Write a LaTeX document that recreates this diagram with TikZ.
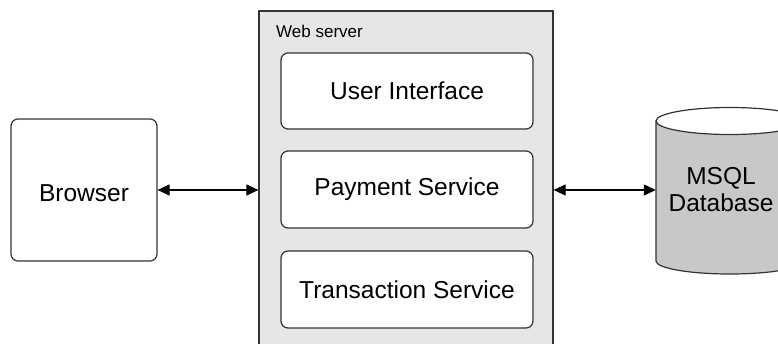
\documentclass[tikz,border=0pt]{standalone}
\usepackage{fontspec}
\setmainfont{Liberation Sans}
\usetikzlibrary{arrows.meta}

\definecolor{linegray}{HTML}{333333}
\definecolor{serverfill}{HTML}{E6E6E6}
\definecolor{dbfill}{HTML}{C8C8C8}

\tikzset{
  box/.style={draw=linegray, line width=1.2pt, rounded corners=7pt, fill=white,
    inner sep=0pt, font=\fontsize{24.5}{27}\selectfont},
  container/.style={draw=linegray, line width=1.2pt, fill=serverfill, inner sep=0pt},
  link/.style={{Triangle[length=12pt,width=11pt]}-{Triangle[length=12pt,width=11pt]},
    draw=black, line width=1.2pt},
}

\begin{document}
\begin{tikzpicture}[x=1pt,y=-1pt]
  \useasboundingbox (0,0) rectangle (778,343);
  \clip (0,0) rectangle (778,343);

  % client
  \node[box, minimum width=146pt, minimum height=142pt] (browser) at (84,190)
    {\raisebox{-3pt}[\height][\depth]{Browser}};

  % web server container with its three services
  \node[container, minimum width=294pt, minimum height=345pt] (web) at (406,183.5) {};
  \node[anchor=base west, inner sep=0pt, font=\fontsize{17}{20}\selectfont] (weblabel) at (276,37) {Web server};
  \node[box, minimum width=252pt, minimum height=76pt] (ui) at (407,91) {User Interface};
  \node[box, minimum width=252pt, minimum height=77pt] (pay) at (407,189.5) {Payment Service};
  \node[box, minimum width=252pt, minimum height=77pt] (trans) at (407,289.5) {Transaction Service};

  % database cylinder
  \node[inner sep=0pt, minimum width=148pt, minimum height=167pt] (db) at (730,190.5) {};
  \fill[dbfill] (656,121) -- (656,261) arc[start angle=180, end angle=0, x radius=74, y radius=13]
    -- (804,121) -- cycle;
  \draw[linegray, line width=1.2pt] (656,121) -- (656,261) arc[start angle=180, end angle=0, x radius=74, y radius=13]
    -- (804,121);
  \draw[linegray, line width=1.2pt, fill=white] (730,121) ellipse[x radius=74, y radius=13.5];
  \node[align=center, inner sep=0pt, font=\fontsize{24.5}{27}\selectfont] (dbtext) at (721,190) {MSQL\\Database};

  % connectors
  \draw[link] (browser.east) -- (browser.east -| web.west);
  \draw[link] (browser.east -| web.east) -- (browser.east -| db.west);
\end{tikzpicture}
\end{document}
